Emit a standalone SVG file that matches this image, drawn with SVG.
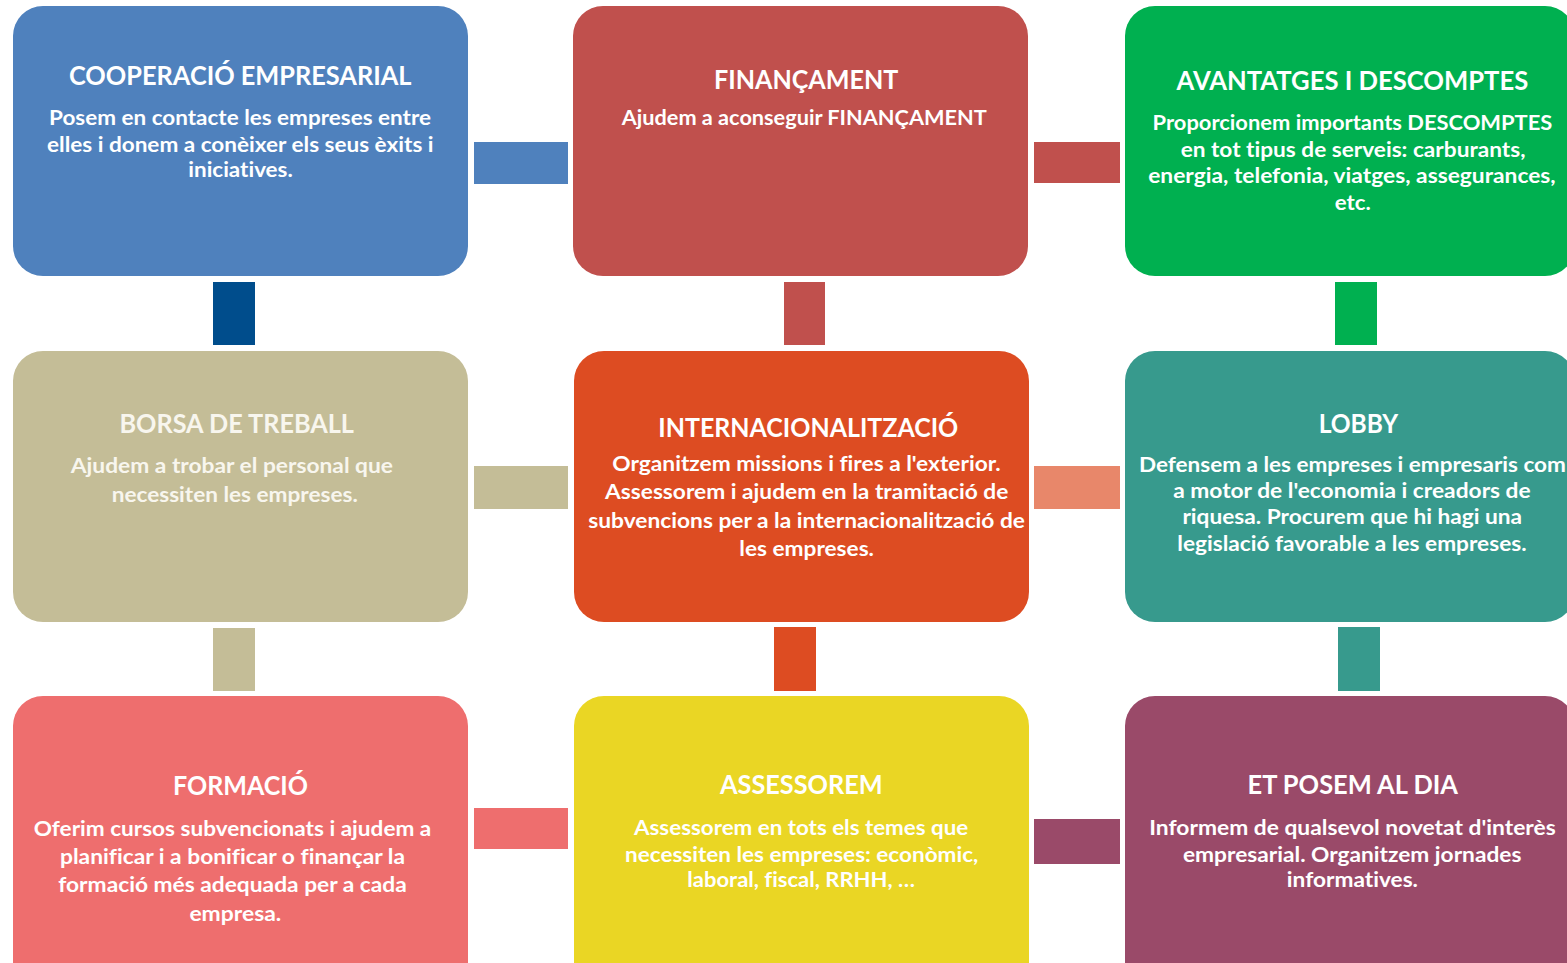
<svg xmlns="http://www.w3.org/2000/svg" width="1567" height="963" viewBox="0 0 1567 963">
  <style>
    text { font-family: "Lato", "Open Sans", "Liberation Sans", sans-serif; font-weight: 700; fill: #FFFFFF; font-variant-ligatures: none; }
    .t { font-size: 26px; }
    .b { font-size: 20px; }
    .cream text { fill: #F8F6EE; }
    .box { stroke: none; }
  </style>
  <rect x="0" y="0" width="1567" height="963" fill="#FFFFFF"/>

  <g id="connectors">
    <rect x="474" y="142" width="94" height="42" fill="#4F81BD"/>
    <rect x="1034" y="142" width="86" height="41" fill="#C0504D"/>
    <rect x="213" y="282" width="42" height="63" fill="#004D8C"/>
    <rect x="784" y="282" width="41" height="63" fill="#C0504D"/>
    <rect x="1335" y="282" width="42" height="63" fill="#00B050"/>
    <rect x="474" y="466" width="94" height="43" fill="#C4BD97"/>
    <rect x="1034" y="466" width="86" height="43" fill="#E8876A"/>
    <rect x="213" y="628" width="42" height="63" fill="#C4BD97"/>
    <rect x="774" y="627" width="42" height="64" fill="#DD4C22"/>
    <rect x="1338" y="627" width="42" height="64" fill="#379A8D"/>
    <rect x="474" y="808" width="94" height="41" fill="#EE6E6E"/>
    <rect x="1034" y="819" width="86" height="45" fill="#9A4A69"/>
  </g>

  <g id="cooperacio">
    <rect class="box" x="13" y="6" width="455" height="270" rx="30" fill="#4F81BD"/>
    <text class="t" x="69" y="85" textLength="342.5" lengthAdjust="spacingAndGlyphs">COOPERACIÓ EMPRESARIAL</text>
    <text class="b" x="49" y="125" textLength="382" lengthAdjust="spacingAndGlyphs">Posem en contacte les empreses entre</text>
    <text class="b" x="47" y="151.5" textLength="386.5" lengthAdjust="spacingAndGlyphs">elles i donem a conèixer els seus èxits i</text>
    <text class="b" x="188.3" y="177" textLength="104.5" lengthAdjust="spacingAndGlyphs">iniciatives.</text>
  </g>

  <g id="financament">
    <rect class="box" x="573" y="6" width="455" height="270" rx="30" fill="#C0504D"/>
    <text class="t" x="714" y="89.3" textLength="184.3" lengthAdjust="spacingAndGlyphs">FINANÇAMENT</text>
    <text class="b" x="621.7" y="125" textLength="365" lengthAdjust="spacingAndGlyphs">Ajudem a aconseguir FINANÇAMENT</text>
  </g>

  <g id="avantatges">
    <rect class="box" x="1125" y="6" width="450" height="270" rx="30" fill="#00B050"/>
    <text class="t" x="1176.6" y="90" textLength="351.7" lengthAdjust="spacingAndGlyphs">AVANTATGES I DESCOMPTES</text>
    <text class="b" x="1152.6" y="130" textLength="399.7" lengthAdjust="spacingAndGlyphs">Proporcionem importants DESCOMPTES</text>
    <text class="b" x="1180.7" y="156.7" textLength="344.8" lengthAdjust="spacingAndGlyphs">en tot tipus de serveis: carburants,</text>
    <text class="b" x="1148.2" y="183.3" textLength="407.5" lengthAdjust="spacingAndGlyphs">energia, telefonia, viatges, assegurances,</text>
    <text class="b" x="1334.8" y="210" textLength="36" lengthAdjust="spacingAndGlyphs">etc.</text>
  </g>

  <g id="borsa" class="cream">
    <rect class="box" x="13" y="351" width="455" height="271" rx="30" fill="#C4BD97"/>
    <text class="t" x="119.4" y="432.7" textLength="234.6" lengthAdjust="spacingAndGlyphs">BORSA DE TREBALL</text>
    <text class="b" x="70.8" y="473.3" textLength="322.2" lengthAdjust="spacingAndGlyphs">Ajudem a trobar el personal que</text>
    <text class="b" x="111.7" y="501.7" textLength="246.1" lengthAdjust="spacingAndGlyphs">necessiten les empreses.</text>
  </g>

  <g id="internacionalitzacio">
    <rect class="box" x="574" y="351" width="455" height="271" rx="30" fill="#DD4C22"/>
    <text class="t" x="658.3" y="436.7" textLength="300" lengthAdjust="spacingAndGlyphs">INTERNACIONALITZACIÓ</text>
    <text class="b" x="612.3" y="470.7" textLength="388.4" lengthAdjust="spacingAndGlyphs">Organitzem missions i fires a l'exterior.</text>
    <text class="b" x="605" y="499.3" textLength="403.3" lengthAdjust="spacingAndGlyphs">Assessorem i ajudem en la tramitació de</text>
    <text class="b" x="588.3" y="528.3" textLength="436.7" lengthAdjust="spacingAndGlyphs">subvencions per a la internacionalització de</text>
    <text class="b" x="739.3" y="556" textLength="134.7" lengthAdjust="spacingAndGlyphs">les empreses.</text>
  </g>

  <g id="lobby">
    <rect class="box" x="1125" y="351" width="450" height="271" rx="30" fill="#379A8D"/>
    <text class="t" x="1318.7" y="433.3" textLength="79.5" lengthAdjust="spacingAndGlyphs">LOBBY</text>
    <text class="b" x="1138.9" y="471.7" textLength="427" lengthAdjust="spacingAndGlyphs">Defensem a les empreses i empresaris com</text>
    <text class="b" x="1173.2" y="497.7" textLength="357.5" lengthAdjust="spacingAndGlyphs">a motor de l'economia i creadors de</text>
    <text class="b" x="1182.4" y="524.3" textLength="339.7" lengthAdjust="spacingAndGlyphs">riquesa. Procurem que hi hagi una</text>
    <text class="b" x="1177.3" y="551" textLength="349.3" lengthAdjust="spacingAndGlyphs">legislació favorable a les empreses.</text>
  </g>

  <g id="formacio">
    <rect class="box" x="13" y="696" width="455" height="300" rx="30" fill="#EE6E6E"/>
    <text class="t" x="173" y="795" textLength="135" lengthAdjust="spacingAndGlyphs">FORMACIÓ</text>
    <text class="b" x="33.7" y="835.7" textLength="397.6" lengthAdjust="spacingAndGlyphs">Oferim cursos subvencionats i ajudem a</text>
    <text class="b" x="60" y="864" textLength="345" lengthAdjust="spacingAndGlyphs">planificar i a bonificar o finançar la</text>
    <text class="b" x="58.2" y="892.3" textLength="348.6" lengthAdjust="spacingAndGlyphs">formació més adequada per a cada</text>
    <text class="b" x="189.4" y="920.7" textLength="91.9" lengthAdjust="spacingAndGlyphs">empresa.</text>
  </g>

  <g id="assessorem">
    <rect class="box" x="574" y="696" width="455" height="300" rx="30" fill="#EAD624"/>
    <text class="t" x="720" y="794" textLength="162.7" lengthAdjust="spacingAndGlyphs">ASSESSOREM</text>
    <text class="b" x="634" y="835" textLength="334.3" lengthAdjust="spacingAndGlyphs">Assessorem en tots els temes que</text>
    <text class="b" x="625" y="861.7" textLength="353.3" lengthAdjust="spacingAndGlyphs">necessiten les empreses: econòmic,</text>
    <text class="b" x="687.3" y="887.3" textLength="227.7" lengthAdjust="spacingAndGlyphs">laboral, fiscal, RRHH, …</text>
  </g>

  <g id="posem-al-dia">
    <rect class="box" x="1125" y="696" width="450" height="300" rx="30" fill="#9A4A69"/>
    <text class="t" x="1247.5" y="794" textLength="210.5" lengthAdjust="spacingAndGlyphs">ET POSEM AL DIA</text>
    <text class="b" x="1149.2" y="835" textLength="406.5" lengthAdjust="spacingAndGlyphs">Informem de qualsevol novetat d'interès</text>
    <text class="b" x="1183" y="861.7" textLength="338.4" lengthAdjust="spacingAndGlyphs">empresarial. Organitzem jornades</text>
    <text class="b" x="1286.8" y="887.3" textLength="131.2" lengthAdjust="spacingAndGlyphs">informatives.</text>
  </g>
</svg>
